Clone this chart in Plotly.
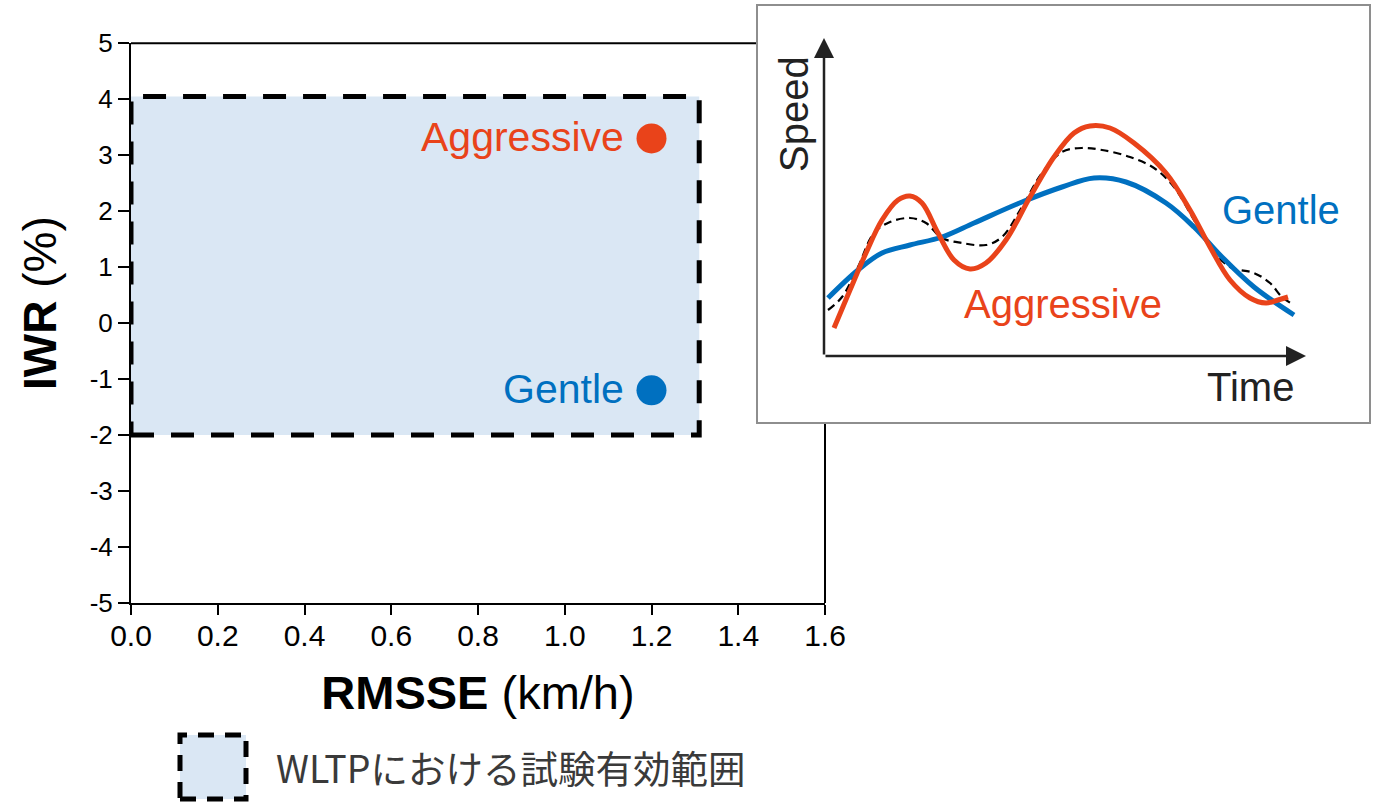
import plotly.graph_objects as go

W, H = 1376, 803

# ---- main chart data ----
series_names = ["Aggressive", "Gentle"]
rmsse = [1.2, 1.2]          # km/h
iwr = [3.3, -1.2]           # %
series_colors = ["#E9431A", "#0070C0"]

valid_rmsse = [0.0, 1.31]
valid_iwr = [-2.0, 4.05]
legend_label = "WLTPにおける試験有効範囲"

x_ticks = [0.0, 0.2, 0.4, 0.6, 0.8, 1.0, 1.2, 1.4, 1.6]
y_ticks = [-5, -4, -3, -2, -1, 0, 1, 2, 3, 4, 5]

# ---- inset (schematic speed traces) ----
gentle_t = [4, 34, 58, 86, 118, 150, 198, 238, 270, 302, 342, 370, 398, 430, 470]
gentle_v = [58, 86, 103, 111, 119, 133, 154, 169, 178, 174, 153, 129, 99, 69, 41]

aggr_t = [10, 26, 42, 58, 74, 86, 98, 114, 130, 146, 162, 182, 206, 230, 250, 266,
          286, 310, 342, 366, 386, 406, 426, 442, 454, 464]
aggr_v = [28, 66, 103, 136, 156, 160, 153, 123, 96, 87, 93, 116, 159, 199, 223, 230,
          228, 213, 183, 146, 109, 76, 58, 53, 56, 59]

ref_t = [4, 18, 34, 50, 66, 86, 102, 118, 138, 162, 178, 198, 218, 238, 258, 278,
         306, 330, 350, 370, 386, 406, 430, 446, 458, 470]
ref_v = [46, 59, 89, 123, 134, 138, 133, 118, 113, 111, 119, 149, 183, 204, 208, 206,
         199, 188, 169, 136, 109, 89, 83, 73, 59, 51]

inset_t_max = 482
inset_v_max = 318

FONT = "Liberation Sans, Arial, sans-serif"


def px(x):
    return x / W


def py(y):
    return (H - y) / H


fig = go.Figure()

# inset traces
fig.add_trace(go.Scatter(x=ref_t, y=ref_v, mode="lines", xaxis="x2", yaxis="y2",
                         line=dict(color="black", width=2.2, dash="8px,5px", shape="spline", smoothing=1),
                         hoverinfo="skip", showlegend=False))
fig.add_trace(go.Scatter(x=gentle_t, y=gentle_v, mode="lines", xaxis="x2", yaxis="y2",
                         line=dict(color=series_colors[1], width=5, shape="spline", smoothing=1),
                         hoverinfo="skip", showlegend=False))
fig.add_trace(go.Scatter(x=aggr_t, y=aggr_v, mode="lines", xaxis="x2", yaxis="y2",
                         line=dict(color=series_colors[0], width=5, shape="spline", smoothing=1),
                         hoverinfo="skip", showlegend=False))

# main points
fig.add_trace(go.Scatter(x=rmsse, y=iwr, mode="markers",
                         marker=dict(size=30, color=series_colors, line=dict(width=0)),
                         hoverinfo="skip", showlegend=False))

shapes = [
    # valid range rectangle
    dict(type="rect", xref="x", yref="y", x0=valid_rmsse[0], x1=valid_rmsse[1],
         y0=valid_iwr[0], y1=valid_iwr[1], fillcolor="#DAE7F4",
         line=dict(color="black", width=5, dash="23px,17px"), layer="below"),
    # main frame top and right
    dict(type="line", xref="x domain", yref="y domain", x0=0, x1=1, y0=1, y1=1,
         line=dict(color="black", width=2), layer="below"),
    dict(type="line", xref="x domain", yref="y domain", x0=1, x1=1, y0=0, y1=1,
         line=dict(color="black", width=2), layer="below"),
    # inset panel
    dict(type="rect", xref="paper", yref="paper", x0=px(757), x1=px(1370),
         y0=py(423), y1=py(5), fillcolor="white",
         line=dict(color="#8E8E8E", width=2), layer="below"),
    # legend swatch
    dict(type="rect", xref="paper", yref="paper", x0=px(180), x1=px(246),
         y0=py(799), y1=py(735), fillcolor="#DAE7F4",
         line=dict(color="black", width=5, dash="16px,11px"), layer="below"),
]

annotations = []
for name, xv, yv, col in zip(series_names, rmsse, iwr, series_colors):
    annotations.append(dict(x=xv, y=yv, xref="x", yref="y", text=name, showarrow=False,
                            xanchor="right", yanchor="middle", xshift=-26, yshift=1,
                            font=dict(family=FONT, size=41, color=col)))

annotations.append(dict(x=px(40), y=py(303), xref="paper", yref="paper",
                        text="<b>IWR</b> (%)", textangle=-90, showarrow=False,
                        xanchor="center", yanchor="middle",
                        font=dict(family=FONT, size=46, color="black")))

annotations.append(dict(x=px(274), y=py(766), xref="paper", yref="paper",
                        text=legend_label, showarrow=False, xanchor="left", yanchor="middle",
                        font=dict(family="Noto Sans CJK JP, sans-serif", size=37.5, color="#3A3A3A")))

# inset arrows (axes)
annotations.append(dict(x=inset_t_max, y=0, ax=0, ay=0, xref="x2", yref="y2",
                        axref="x2", ayref="y2", text="", showarrow=True,
                        arrowhead=2, arrowsize=1.6, arrowwidth=2.5, arrowcolor="#222222"))
annotations.append(dict(x=0, y=inset_v_max, ax=0, ay=0, xref="x2", yref="y2",
                        axref="x2", ayref="y2", text="", showarrow=True,
                        arrowhead=2, arrowsize=1.6, arrowwidth=2.5, arrowcolor="#222222"))

# inset labels
annotations.append(dict(x=px(794), y=py(114), xref="paper", yref="paper", text="Speed",
                        textangle=-90, showarrow=False, xanchor="center", yanchor="middle",
                        font=dict(family=FONT, size=40, color="#222222")))
annotations.append(dict(x=px(1250), y=py(387), xref="paper", yref="paper", text="Time",
                        showarrow=False, xanchor="center", yanchor="middle",
                        font=dict(family=FONT, size=40, color="#222222")))
annotations.append(dict(x=457, y=146, xref="x2", yref="y2", text="Gentle",
                        showarrow=False, font=dict(family=FONT, size=40, color=series_colors[1])))
annotations.append(dict(x=239, y=52, xref="x2", yref="y2", text="Aggressive",
                        showarrow=False, font=dict(family=FONT, size=40, color=series_colors[0])))

fig.update_layout(
    width=W, height=H,
    margin=dict(l=0, r=0, t=0, b=0),
    paper_bgcolor="white", plot_bgcolor="white",
    showlegend=False,
    hovermode=False,
    shapes=shapes,
    annotations=annotations,
    xaxis=dict(domain=[px(131), px(825)], range=[0, 1.6], tickvals=x_ticks,
               ticktext=[f"{v:.1f}" for v in x_ticks],
               showgrid=False, zeroline=False, showline=True, linecolor="black", linewidth=2,
               ticks="outside", ticklen=10, tickwidth=2, tickcolor="black",
               ticklabelstandoff=-5,
               tickfont=dict(family=FONT, size=30, color="black"),
               title=dict(text="<b>RMSSE</b> (km/h)", standoff=25,
                          font=dict(family=FONT, size=47, color="black")),
               anchor="y", automargin=False, fixedrange=True),
    yaxis=dict(domain=[py(603), py(43.3)], range=[-5, 5], tickvals=y_ticks,
               ticktext=[str(v) for v in y_ticks],
               showgrid=False, zeroline=False, showline=True, linecolor="black", linewidth=2,
               ticks="outside", ticklen=11, tickwidth=2, tickcolor="black",
               tickfont=dict(family=FONT, size=26, color="black"),
               anchor="x", automargin=False, fixedrange=True),
    xaxis2=dict(domain=[px(824), px(1306)], range=[0, inset_t_max], visible=False,
                anchor="y2", fixedrange=True),
    yaxis2=dict(domain=[py(356), py(38)], range=[0, inset_v_max], visible=False,
                anchor="x2", fixedrange=True),
)

fig.write_html("out.html", config=dict(displayModeBar=False, staticPlot=True))
